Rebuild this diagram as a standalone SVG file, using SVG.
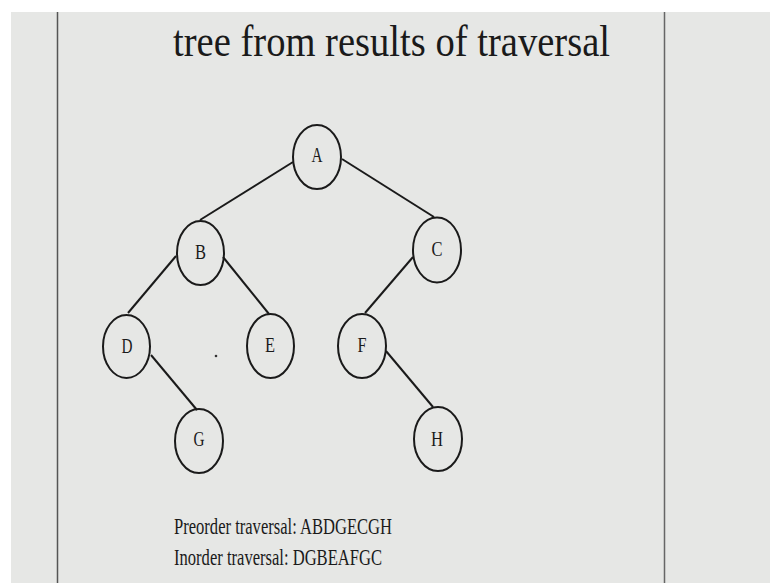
<svg xmlns="http://www.w3.org/2000/svg" width="770" height="583" viewBox="0 0 770 583">
<style>
.node ellipse{fill:none;stroke:#1a1a1a;stroke-width:2}
.node text{font-family:"Liberation Serif","Times New Roman",serif;font-size:21px;fill:#1a1a1a;text-anchor:middle}
.edge{stroke:#1a1a1a;stroke-width:2;fill:none}
.txt{font-family:"Liberation Serif","Times New Roman",serif;fill:#1a1a1a}
</style>
<rect x="0" y="0" width="770" height="583" fill="#ffffff"/>
<rect x="11" y="12" width="759" height="571" fill="#e6e7e5"/>
<line x1="57.5" y1="12" x2="57.5" y2="583" stroke="#555" stroke-width="1.5"/>
<line x1="664.5" y1="12" x2="664.5" y2="583" stroke="#666" stroke-width="1.5"/>
<text class="txt" x="173" y="56" font-size="45" textLength="437" lengthAdjust="spacingAndGlyphs">tree from results of traversal</text>
<g id="connectors">
<line class="edge" x1="293" y1="162" x2="200" y2="220"/>
<line class="edge" x1="342" y1="159" x2="434" y2="217"/>
<line class="edge" x1="176" y1="256" x2="128" y2="313"/>
<line class="edge" x1="223" y1="257" x2="269" y2="314"/>
<line class="edge" x1="413" y1="257" x2="365" y2="313"/>
<line class="edge" x1="151" y1="355" x2="197" y2="410"/>
<line class="edge" x1="386" y1="351" x2="433" y2="407"/>
</g>
<g id="node-A" class="node"><ellipse cx="317" cy="157" rx="24" ry="32"/><text x="317" y="162" textLength="11" lengthAdjust="spacingAndGlyphs">A</text></g>
<g id="node-B" class="node"><ellipse cx="200.5" cy="253" rx="23.5" ry="32"/><text x="200.5" y="259" textLength="11" lengthAdjust="spacingAndGlyphs">B</text></g>
<g id="node-C" class="node"><ellipse cx="437" cy="250" rx="24" ry="32.5"/><text x="437" y="256" textLength="11" lengthAdjust="spacingAndGlyphs">C</text></g>
<g id="node-D" class="node"><ellipse cx="126.5" cy="346.5" rx="23.5" ry="31.5"/><text x="127" y="353" textLength="11" lengthAdjust="spacingAndGlyphs">D</text></g>
<g id="node-E" class="node"><ellipse cx="270.5" cy="346" rx="23.5" ry="32"/><text x="270" y="352" textLength="10" lengthAdjust="spacingAndGlyphs">E</text></g>
<g id="node-F" class="node"><ellipse cx="362" cy="346" rx="24" ry="32"/><text x="362" y="352" textLength="9" lengthAdjust="spacingAndGlyphs">F</text></g>
<g id="node-G" class="node"><ellipse cx="199" cy="441" rx="24" ry="32"/><text x="199" y="446" textLength="11" lengthAdjust="spacingAndGlyphs">G</text></g>
<g id="node-H" class="node"><ellipse cx="438" cy="439" rx="24" ry="32"/><text x="437" y="446" textLength="12" lengthAdjust="spacingAndGlyphs">H</text></g>
<circle cx="216" cy="356" r="1.3" fill="#333"/>
<text class="txt" x="174" y="534" font-size="23" textLength="218" lengthAdjust="spacingAndGlyphs">Preorder traversal: ABDGECGH</text>
<text class="txt" x="174" y="565" font-size="23" textLength="208" lengthAdjust="spacingAndGlyphs">Inorder traversal: DGBEAFGC</text>
</svg>
